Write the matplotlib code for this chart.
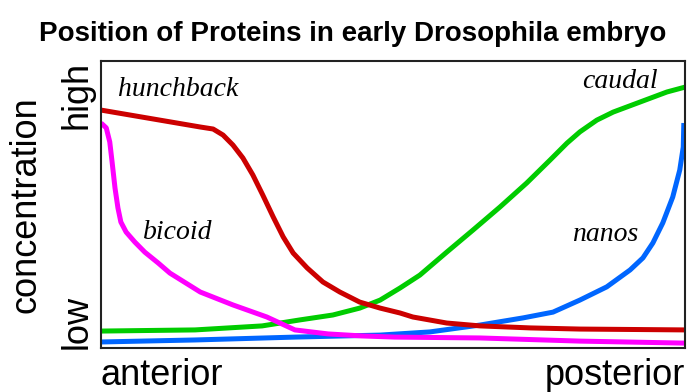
import numpy as np
from matplotlib import pyplot as plt

# position along the embryo (0 = anterior, 100 = posterior), concentration (0 = low, 100 = high)
hb_x = [0, 17.0, 19.2, 20.9, 22.6, 24.3, 26.0, 27.7, 29.5, 31.2, 32.9, 35.3, 38.0, 40.9,
        44.3, 47.8, 51.2, 53.4, 59.2, 64.9, 73.5, 82.0, 100]
hb_y = [82.9, 77.0, 76.3, 74.2, 70.7, 66.2, 60.3, 53.3, 45.6, 38.7, 33.1, 27.9, 23.0, 19.5,
        16.0, 13.9, 12.2, 10.8, 8.7, 7.7, 7.0, 6.6, 6.3]

bcd_x = [0, 0.9, 1.5, 1.9, 2.4, 2.9, 3.4, 4.3, 5.8, 7.5, 9.8, 11.8, 17.0, 22.6, 28.4,
         33.2, 38.9, 44.7, 50.3, 64.9, 82.0, 100]
bcd_y = [78.4, 76.7, 71.8, 64.8, 55.7, 48.8, 43.9, 40.4, 36.9, 33.4, 29.6, 26.1, 19.5, 15.0, 10.8,
         6.3, 4.9, 4.2, 3.8, 3.5, 2.4, 1.7]

cad_x = [0, 16.1, 27.6, 34.1, 39.7, 44.3, 47.8, 51.2, 54.6, 59.2, 63.7, 68.3, 72.9, 76.9,
         79.8, 82.0, 84.9, 87.7, 92.3, 96.9, 100]
cad_y = [5.9, 6.3, 7.7, 9.8, 11.5, 13.9, 16.7, 20.9, 25.4, 33.4, 41.1, 49.1, 57.5, 65.5,
         71.4, 75.3, 79.4, 82.2, 85.7, 89.2, 90.9]

nos_x = [0, 16.1, 33.2, 47.8, 56.3, 64.9, 72.3, 77.4, 82.0, 86.6, 90.6, 92.8, 94.5, 96.2,
         97.9, 99.1, 99.7, 99.8]
nos_y = [2.1, 2.8, 3.8, 4.5, 5.6, 8.0, 10.5, 12.5, 16.7, 21.3, 27.2, 31.4, 36.6, 43.6,
         52.6, 62.0, 70.0, 78.4]

fig = plt.figure(figsize=(7, 3.92), dpi=100)
ax = fig.add_axes([101/700, 44/392, 584/700, 287/392])

lw = 3.6
ax.plot(cad_x, cad_y, color="#00cc00", lw=lw, solid_capstyle="butt", solid_joinstyle="round")
ax.plot(nos_x, nos_y, color="#0066ff", lw=lw, solid_capstyle="butt", solid_joinstyle="round")
ax.plot(bcd_x, bcd_y, color="#ff00ff", lw=lw, solid_capstyle="butt", solid_joinstyle="round")
ax.plot(hb_x, hb_y, color="#cc0000", lw=lw, solid_capstyle="butt", solid_joinstyle="round")

ax.set_xlim(0, 100)
ax.set_ylim(0, 100)
ax.set_xticks([])
ax.set_yticks([])
for s in ax.spines.values():
    s.set_linewidth(1.5)
    s.set_color("#222222")

lab = dict(family="Liberation Serif", style="italic", fontsize=20, ha="center", va="center")
ax.text(13.2, 89.9, "hunchback", **lab)
ax.text(13.2, 40.1, "bicoid", **lab)
ax.text(88.9, 93.0, "caudal", **lab)
ax.text(86.3, 39.4, "nanos", **lab)

sans = "Liberation Sans"
fig.text(353/700, 1 - 34/392, "Position of Proteins in early Drosophila embryo",
         family=sans, weight="bold", fontsize=20, ha="center", va="center")
fig.text(26/700, 1 - 205/392, "concentration", family=sans, fontsize=26,
         rotation=90, ha="center", va="center")
fig.text(77/700, 1 - 95/392, "high", family=sans, fontsize=26, rotation=90, ha="center", va="center")
fig.text(77/700, 1 - 322/392, "low", family=sans, fontsize=26, rotation=90, ha="center", va="center")
fig.text(101/700, 7/392, "anterior", family=sans, fontsize=26, ha="left", va="baseline")
fig.text(685/700, 7/392, "posterior", family=sans, fontsize=26, ha="right", va="baseline")

fig.savefig("out.png", dpi=100)
